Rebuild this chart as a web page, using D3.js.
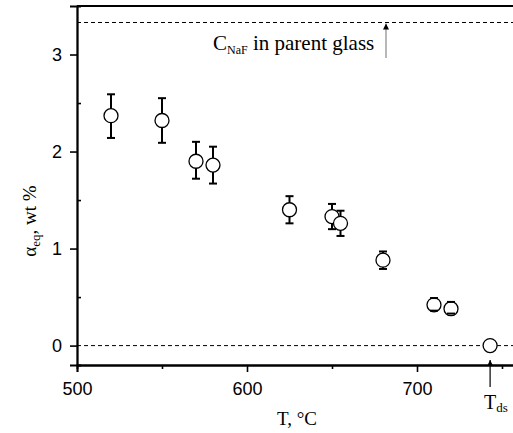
<!DOCTYPE html>
<html>
<head>
<meta charset="utf-8">
<script src="https://cdn.jsdelivr.net/npm/d3@7"></script>
<style>
  body { margin: 0; background: #fff; }
  svg { display: block; }
  .tick text { font-family: "Liberation Sans", Arial, sans-serif; font-size: 18px; fill: #000; }
  .serif { font-family: "Liberation Serif", "Times New Roman", serif; fill: #000; }
</style>
</head>
<body>
<div id="chart"></div>
<script>
// data
let temps = [520, 550, 570, 580, 625, 650, 655, 680, 710, 720, 743];
let alpha = [2.37, 2.32, 1.9, 1.86, 1.4, 1.33, 1.26, 0.88, 0.42, 0.38, 0];
let errLow = [2.14, 2.09, 1.72, 1.67, 1.26, 1.2, 1.13, 0.79, 0.36, 0.33, null];
let errHigh = [2.59, 2.55, 2.1, 2.05, 1.54, 1.46, 1.39, 0.97, 0.49, 0.45, null];
let xTicks = [500, 600, 700];
let yTicks = [0, 1, 2, 3];
let cNaF = 3.33; // NaF content in parent glass
let tDs = 743;

let W = 513, H = 433;
let margin = { top: 6, left: 77 };

let svg = d3.select("#chart").append("svg").attr("width", W).attr("height", H);

let x = d3.scaleLinear().domain([500, 760]).range([margin.left, margin.left + 1.7 * 260]);
let y = d3.scaleLinear().domain([-0.2, 3.5]).range([365, margin.top]);

let data = temps.map((t, i) => ({ t: t, a: alpha[i], lo: errLow[i], hi: errHigh[i] }));

// dashed reference lines
[cNaF, 0].forEach((v) => {
  svg.append("line")
    .attr("x1", x(500)).attr("x2", W)
    .attr("y1", y(v)).attr("y2", y(v))
    .attr("stroke", "#000").attr("stroke-width", 1)
    .attr("stroke-dasharray", "4,3");
});

// axes
svg.append("g")
  .attr("transform", `translate(0,${y(-0.2)})`)
  .call(d3.axisBottom(x).tickValues(xTicks).tickSize(7).tickPadding(10).tickFormat(d3.format("d")));
svg.append("g")
  .attr("transform", `translate(0,${y(-0.2)})`)
  .call(d3.axisBottom(x).tickValues([550, 650, 750]).tickSize(4).tickFormat(""));
svg.append("g")
  .attr("transform", `translate(${x(500)},0)`)
  .call(d3.axisLeft(y).tickValues(yTicks).tickSize(7).tickPadding(8).tickFormat(d3.format("d")));
svg.append("g")
  .attr("transform", `translate(${x(500)},0)`)
  .call(d3.axisRight(y).tickValues([0.5, 1.5, 2.5]).tickSize(4).tickFormat(""));
svg.selectAll(".domain").attr("stroke-width", 1.8);
svg.selectAll(".tick line").attr("stroke-width", 1.6);

// top frame
svg.append("line")
  .attr("x1", x(500)).attr("x2", W)
  .attr("y1", y(3.5)).attr("y2", y(3.5))
  .attr("stroke", "#000").attr("stroke-width", 1.8);

// symbols
let r = 7;
svg.append("g").selectAll("circle")
  .data(data)
  .enter()
  .append("circle")
  .attr("cx", (d) => x(d.t))
  .attr("cy", (d) => y(d.a))
  .attr("r", r)
  .attr("fill", "#fff")
  .attr("stroke", "#000")
  .attr("stroke-width", 1.3);

// error bars (drawn from the circle edge outward, caps always)
let eb = svg.append("g").attr("stroke", "#000").attr("stroke-width", 2);
data.filter((d) => d.lo !== null).forEach((d) => {
  let cx = x(d.t), cy = y(d.a);
  let yt = y(d.hi), yb = y(d.lo);
  if (cy - yt > r) eb.append("line").attr("x1", cx).attr("x2", cx).attr("y1", yt).attr("y2", cy - r);
  if (yb - cy > r) eb.append("line").attr("x1", cx).attr("x2", cx).attr("y1", cy + r).attr("y2", yb);
  [yt, yb].forEach((yy) => {
    eb.append("line").attr("x1", cx - 4).attr("x2", cx + 4).attr("y1", yy).attr("y2", yy);
  });
});

// arrowhead marker
svg.append("defs").append("marker")
  .attr("id", "arr")
  .attr("viewBox", "0 0 10 10")
  .attr("refX", 10).attr("refY", 5)
  .attr("markerWidth", 8).attr("markerHeight", 6)
  .attr("markerUnits", "userSpaceOnUse")
  .attr("orient", "auto")
  .append("path").attr("d", "M0,0 L10,5 L0,10 Z").attr("fill", "#000");

// C_NaF annotation
let cLabel = svg.append("text").attr("class", "serif")
  .attr("x", 213).attr("y", 50).attr("font-size", 21);
cLabel.append("tspan").text("C");
cLabel.append("tspan").attr("font-size", 12).attr("dy", 4).text("NaF");
cLabel.append("tspan").attr("dy", -4).text(" in parent glass");
svg.append("line")
  .attr("x1", 386).attr("x2", 386)
  .attr("y1", 58).attr("y2", y(cNaF) + 1)
  .attr("stroke", "#888").attr("stroke-width", 1.2)
  .attr("marker-end", "url(#arr)");

// T_ds annotation
svg.append("line")
  .attr("x1", x(tDs)).attr("x2", x(tDs))
  .attr("y1", 387).attr("y2", 360)
  .attr("stroke", "#000").attr("stroke-width", 1.2)
  .attr("marker-end", "url(#arr)");
let tLabel = svg.append("text").attr("class", "serif")
  .attr("x", 484).attr("y", 409).attr("font-size", 20);
tLabel.append("tspan").text("T");
tLabel.append("tspan").attr("font-size", 13).attr("dy", 3).text("ds");

// axis titles
svg.append("text").attr("class", "serif")
  .attr("x", 297).attr("y", 425)
  .attr("text-anchor", "middle").attr("font-size", 19)
  .text("T, °C");
let yTitle = svg.append("text").attr("class", "serif")
  .attr("transform", "translate(36,221) rotate(-90)")
  .attr("text-anchor", "middle").attr("font-size", 19);
yTitle.append("tspan").text("α");
yTitle.append("tspan").attr("font-size", 13).attr("dy", 4).text("eq");
yTitle.append("tspan").attr("dy", -4).text(", wt %");
</script>
</body>
</html>
